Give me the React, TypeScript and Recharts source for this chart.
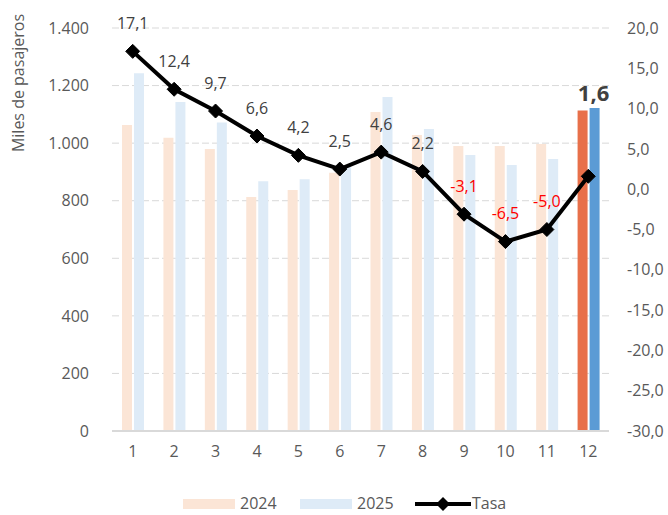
import { ComposedChart, Bar, Line, XAxis, YAxis, CartesianGrid, Cell, LabelList } from 'recharts';

const months = ['1', '2', '3', '4', '5', '6', '7', '8', '9', '10', '11', '12'];
const pax2024 = [1063, 1019, 980, 813, 837, 897, 1108, 1028, 990, 990, 997, 1113];
const pax2025 = [1243, 1143, 1072, 868, 875, 920, 1160, 1049, 959, 924, 945, 1122];
const tasa = [17.1, 12.4, 9.7, 6.6, 4.2, 2.5, 4.6, 2.2, -3.1, -6.5, -5.0, 1.6];
const leftTicks = [0, 200, 400, 600, 800, 1000, 1200, 1400];
const rightTicks = [-30, -25, -20, -15, -10, -5, 0, 5, 10, 15, 20];

const data = months.map((m, i) => ({
  name: m,
  y2024: pax2024[i],
  y2025: pax2025[i],
  tasa: tasa[i],
}));

const FONT = '"Open Sans", sans-serif';
const TICK = '#595959';
const LIGHT_24 = '#FBE5D6';
const LIGHT_25 = '#DEEBF7';
const DARK_24 = '#E8704A';
const DARK_25 = '#5B9BD5';

const fmtComma = (v: number) => v.toFixed(1).replace('.', ',');
const fmtThousands = (v: number) => v.toLocaleString('de-DE');

const Diamond = (props: any) => {
  const { cx, cy, index } = props;
  if (cx == null || cy == null) return null;
  const r = 7;
  return (
    <path
      key={`d-${index}`}
      d={`M${cx},${cy - r} L${cx + r},${cy} L${cx},${cy + r} L${cx - r},${cy} Z`}
      fill="#000"
      stroke="#000"
    />
  );
};

const TasaLabel = (props: any) => {
  const { x, y, value, index } = props;
  if (index === months.length - 1) return null;
  return (
    <text
      x={x}
      y={y - 28}
      dy="0.35em"
      textAnchor="middle"
      fontFamily={FONT}
      fontSize={16}
      fill={value < 0 ? '#FF0000' : '#404040'}
    >
      {fmtComma(value)}
    </text>
  );
};

const LastLabel = (props: any) => {
  const { x, y, width, value, index } = props;
  if (index !== months.length - 1) return null;
  return (
    <text
      x={x + width / 2 - 1}
      y={y - 7}
      textAnchor="middle"
      fontFamily={FONT}
      fontSize={22}
      fontWeight="bold"
      fill="#404040"
    >
      {fmtComma(value)}
    </text>
  );
};

const AxisTitle = () => (
  <text
    x={0}
    y={0}
    transform="translate(18, 83) rotate(-90)"
    textAnchor="middle"
    dy="0.35em"
    fontFamily={FONT}
    fontSize={16}
    fill={TICK}
  >
    Miles de pasajeros
  </text>
);

const legendText = { position: 'absolute' as const, top: 495, fontFamily: FONT, fontSize: 16, color: TICK, lineHeight: '16px' };

export default function App() {
  return (
    <div style={{ position: 'absolute', left: 0, top: 0, width: 668, height: 515, background: '#fff' }}>
      <ComposedChart
        width={668}
        height={515}
        data={data}
        margin={{ top: 28, right: 0, bottom: 54, left: 0 }}
        barSize={10}
        barGap={2}
      >
        <CartesianGrid vertical={false} stroke="#D9D9D9" strokeDasharray="7 3" yAxisId="left" />
        <XAxis
          dataKey="name"
          height={30}
          tickSize={0}
          tickMargin={15}
          axisLine={{ stroke: '#D9D9D9', strokeWidth: 2 }}
          tick={{ fontFamily: FONT, fontSize: 16, fill: TICK }}
        />
        <YAxis
          yAxisId="left"
          width={112}
          domain={[0, 1400]}
          ticks={leftTicks}
          tickFormatter={fmtThousands}
          axisLine={false}
          tickLine={false}
          tickSize={0}
          tickMargin={23}
          tick={{ fontFamily: FONT, fontSize: 16, fill: TICK }}
          label={<AxisTitle />}
        />
        <YAxis
          yAxisId="right"
          orientation="right"
          width={59}
          domain={[-30, 20]}
          ticks={rightTicks}
          tickFormatter={fmtComma}
          axisLine={false}
          tickLine={false}
          tickSize={0}
          tickMargin={18}
          tick={{ fontFamily: FONT, fontSize: 16, fill: TICK, textAnchor: 'start' }}
        />
        <Bar yAxisId="left" dataKey="y2024" isAnimationActive={false}>
          {data.map((_, i) => (
            <Cell key={`a-${i}`} fill={i === months.length - 1 ? DARK_24 : LIGHT_24} />
          ))}
        </Bar>
        <Bar yAxisId="left" dataKey="y2025" isAnimationActive={false}>
          {data.map((_, i) => (
            <Cell key={`b-${i}`} fill={i === months.length - 1 ? DARK_25 : LIGHT_25} />
          ))}
          <LabelList dataKey="tasa" content={<LastLabel />} />
        </Bar>
        <Line
          yAxisId="right"
          dataKey="tasa"
          stroke="#000"
          strokeWidth={4}
          dot={<Diamond />}
          activeDot={false}
          isAnimationActive={false}
        >
          <LabelList dataKey="tasa" content={<TasaLabel />} />
        </Line>
      </ComposedChart>

      <div style={{ position: 'absolute', left: 183, top: 499, width: 52, height: 10, background: LIGHT_24 }} />
      <div style={{ ...legendText, left: 240 }}>2024</div>
      <div style={{ position: 'absolute', left: 300, top: 499, width: 52, height: 10, background: LIGHT_25 }} />
      <div style={{ ...legendText, left: 357 }}>2025</div>
      <svg style={{ position: 'absolute', left: 413, top: 496 }} width={60} height={16}>
        <line x1={2} y1={8} x2={58} y2={8} stroke="#000" strokeWidth={4} />
        <path d="M30,1 L37,8 L30,15 L23,8 Z" fill="#000" />
      </svg>
      <div style={{ ...legendText, left: 472 }}>Tasa</div>
    </div>
  );
}
